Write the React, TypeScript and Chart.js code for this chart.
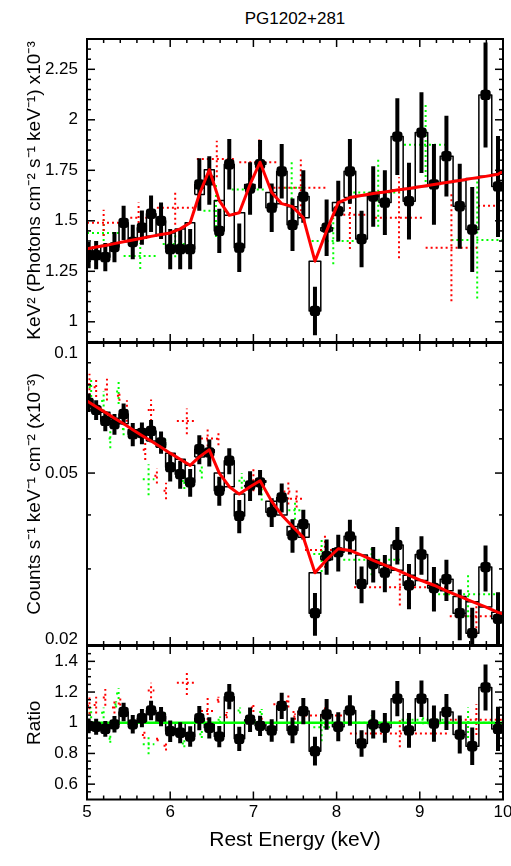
import React, { useEffect, useRef } from "react";
import { Chart, registerables } from "chart.js";

Chart.register(...registerables);

const FONT = "'Liberation Sans', Arial, Helvetica, sans-serif";

// ---------- axes ----------
const X_MIN = 5;
const X_MAX = 10;
const X_TICKS = [5, 6, 7, 8, 9, 10];
const X_MINOR_STEP = 0.2;

const TOP_MIN = 0.9;
const TOP_MAX = 2.4;
const TOP_TICKS = [1, 1.25, 1.5, 1.75, 2, 2.25];
const TOP_MINOR_STEP = 0.05;

const MID_MIN = 0.02;
const MID_MAX = 0.1;
const MID_TICKS = [0.02, 0.05, 0.1];
const MID_MINOR = [0.03, 0.04, 0.06, 0.07, 0.08, 0.09];

const BOT_MIN = 0.5;
const BOT_MAX = 1.5;
const BOT_TICKS = [0.6, 0.8, 1, 1.2, 1.4];
const BOT_MINOR_STEP = 0.05;
const UNITY = 1;

// ---------- black spectrum (bin centres, keV) ----------
const BIN_E = [5.02, 5.11, 5.22, 5.33, 5.44, 5.55, 5.66, 5.77, 5.89, 6.0, 6.12, 6.24, 6.35, 6.47, 6.59, 6.71, 6.83, 6.96, 7.08, 7.22, 7.34, 7.47, 7.6, 7.74, 7.88, 8.02, 8.16, 8.3, 8.44, 8.58, 8.73, 8.87, 9.02, 9.17, 9.32, 9.48, 9.63, 9.79, 9.94];

// top panel: unfolded spectrum (x10^-3)
const TOP_VAL = [1.33, 1.33, 1.32, 1.37, 1.49, 1.395, 1.466, 1.535, 1.5, 1.36, 1.36, 1.36, 1.68, 1.7, 1.45, 1.78, 1.367, 1.66, 1.78, 1.565, 1.745, 1.48, 1.62, 1.054, 1.466, 1.548, 1.745, 1.41, 1.62, 1.59, 1.917, 1.597, 1.937, 1.68, 1.82, 1.572, 1.457, 2.123, 1.67];
const TOP_ERR = [0.065, 0.07, 0.07, 0.075, 0.085, 0.085, 0.085, 0.09, 0.09, 0.1, 0.1, 0.1, 0.13, 0.12, 0.11, 0.125, 0.12, 0.13, 0.12, 0.12, 0.135, 0.13, 0.13, 0.12, 0.14, 0.15, 0.16, 0.14, 0.15, 0.16, 0.19, 0.19, 0.2, 0.2, 0.2, 0.21, 0.21, 0.26, 0.25];
const TOP_MODEL = [1.363, 1.37, 1.378, 1.387, 1.396, 1.405, 1.414, 1.423, 1.432, 1.44, 1.46, 1.49, 1.63, 1.753, 1.6, 1.527, 1.54, 1.68, 1.79, 1.64, 1.585, 1.57, 1.515, 1.3, 1.45, 1.59, 1.615, 1.625, 1.635, 1.643, 1.652, 1.66, 1.67, 1.68, 1.69, 1.7, 1.71, 1.72, 1.73];
const TOP_MODEL_ENDS = [1.36, 1.745];

// middle panel: counts
const MID_VAL = [0.0728, 0.07, 0.066, 0.0649, 0.0685, 0.0615, 0.0619, 0.0626, 0.0589, 0.0516, 0.0497, 0.0476, 0.0568, 0.0558, 0.0455, 0.0534, 0.0398, 0.0468, 0.0476, 0.0406, 0.0439, 0.0359, 0.0381, 0.0237, 0.0321, 0.0328, 0.0357, 0.0277, 0.0308, 0.0294, 0.0341, 0.0275, 0.0324, 0.0271, 0.0284, 0.0237, 0.0213, 0.0303, 0.023];
const MID_ERR = [0.0036, 0.0037, 0.0035, 0.0036, 0.0039, 0.0038, 0.0036, 0.0037, 0.0035, 0.0038, 0.0037, 0.0035, 0.0044, 0.004, 0.0035, 0.0037, 0.0035, 0.0037, 0.0032, 0.0031, 0.0034, 0.0032, 0.003, 0.0027, 0.003, 0.0032, 0.0033, 0.0027, 0.0029, 0.0029, 0.0034, 0.0033, 0.0033, 0.0032, 0.0031, 0.0032, 0.0031, 0.0037, 0.0035];
const MID_MODEL = [0.073, 0.0712, 0.0691, 0.067, 0.065, 0.063, 0.0611, 0.0593, 0.0574, 0.0556, 0.0538, 0.0521, 0.0545, 0.0566, 0.05, 0.0465, 0.0447, 0.0465, 0.048, 0.043, 0.04, 0.0376, 0.0355, 0.0294, 0.0315, 0.0334, 0.0331, 0.0323, 0.0314, 0.0306, 0.0298, 0.029, 0.0282, 0.0275, 0.0267, 0.0259, 0.0252, 0.0245, 0.0238];
const MID_MODEL_ENDS = [0.0734, 0.0236];

// bottom panel: ratio
const RATIO_VAL = [0.98, 0.974, 0.96, 0.99, 1.07, 0.99, 1.03, 1.08, 1.04, 0.945, 0.935, 0.91, 1.03, 0.967, 0.91, 1.17, 0.895, 1.02, 0.98, 0.95, 1.11, 0.95, 1.076, 0.815, 1.054, 0.974, 1.08, 0.865, 0.99, 0.967, 1.157, 0.95, 1.157, 0.995, 1.07, 0.923, 0.847, 1.23, 0.96];
const RATIO_ERR = [0.048, 0.052, 0.051, 0.054, 0.061, 0.06, 0.06, 0.064, 0.062, 0.07, 0.069, 0.067, 0.079, 0.069, 0.069, 0.082, 0.079, 0.08, 0.066, 0.073, 0.085, 0.084, 0.086, 0.093, 0.1, 0.094, 0.099, 0.086, 0.092, 0.097, 0.115, 0.113, 0.119, 0.118, 0.118, 0.124, 0.122, 0.15, 0.144];

// ---------- red / green spectra (dotted crosses) ----------
const TOP_RED_E = [5.2, 5.62, 6.06, 6.56, 7.07, 7.57, 8.16, 8.75, 9.38, 10.0];
const TOP_RED_Y = [1.49, 1.515, 1.565, 1.806, 1.79, 1.663, 1.53, 1.515, 1.367, 1.575];
const TOP_RED_DX = [0.2, 0.1, 0.22, 0.24, 0.24, 0.33, 0.2, 0.29, 0.31, 0.3];
const TOP_RED_ERR = [0.065, 0.075, 0.085, 0.09, 0.12, 0.14, 0.17, 0.2, 0.265, 0.3];

const TOP_GREEN_E = [5.2, 5.64, 6.06, 6.55, 6.95, 7.46, 7.96, 8.5, 9.07, 9.69];
const TOP_GREEN_Y = [1.44, 1.326, 1.385, 1.55, 1.655, 1.663, 1.4, 1.64, 1.877, 1.405];
const TOP_GREEN_DX = [0.2, 0.2, 0.15, 0.15, 0.21, 0.14, 0.26, 0.3, 0.26, 0.31];
const TOP_GREEN_ERR = [0.065, 0.065, 0.065, 0.13, 0.1, 0.13, 0.115, 0.17, 0.21, 0.29];

const MID_RED_E = [5.03, 5.11, 5.24, 5.39, 5.48, 5.7, 5.77, 5.84, 5.95, 6.2, 6.45, 6.58, 7.0, 7.42, 7.52, 7.86, 8.76, 9.68];
const MID_RED_Y = [0.0803, 0.079, 0.0781, 0.0755, 0.0697, 0.0566, 0.07, 0.0493, 0.0455, 0.066, 0.0601, 0.06, 0.0484, 0.0453, 0.0436, 0.0332, 0.0272, 0.0233];
const MID_RED_DX = [0.03, 0.03, 0.03, 0.03, 0.03, 0.03, 0.04, 0.03, 0.03, 0.12, 0.08, 0.03, 0.04, 0.06, 0.08, 0.24, 0.55, 0.32];
const MID_RED_ERR = [0.0046, 0.004, 0.0045, 0.002, 0.004, 0.003, 0.004, 0.002, 0.002, 0.0045, 0.004, 0.002, 0.003, 0.003, 0.002, 0.003, 0.0025, 0.002];

const MID_GREEN_E = [5.05, 5.2, 5.28, 5.38, 5.44, 5.74, 5.94, 6.17, 6.38, 6.6, 6.86, 7.1, 7.5, 7.82, 8.42, 9.58];
const MID_GREEN_Y = [0.079, 0.0734, 0.0601, 0.0772, 0.0632, 0.0484, 0.0583, 0.0479, 0.0506, 0.0476, 0.048, 0.0452, 0.041, 0.0325, 0.0315, 0.0262];
const MID_GREEN_DX = [0.03, 0.03, 0.02, 0.03, 0.02, 0.07, 0.02, 0.03, 0.03, 0.03, 0.04, 0.03, 0.08, 0.1, 0.34, 0.42];
const MID_GREEN_ERR = [0.004, 0.004, 0.003, 0.005, 0.002, 0.004, 0.002, 0.002, 0.002, 0.002, 0.002, 0.002, 0.002, 0.003, 0.0025, 0.003];

const BOT_RED_E = [5.03, 5.11, 5.22, 5.33, 5.4, 5.69, 5.77, 5.85, 5.95, 6.2, 6.45, 6.58, 6.68, 7.0, 7.1, 7.3, 7.42, 7.5, 7.55, 7.86, 8.76, 9.68];
const BOT_RED_Y = [1.11, 1.115, 1.165, 1.1, 1.125, 0.92, 1.21, 0.895, 0.85, 1.26, 1.076, 1.15, 1.05, 1.1, 1.035, 1.12, 1.14, 1.04, 1.07, 1.048, 0.93, 1.02];
const BOT_RED_DX = [0.03, 0.03, 0.03, 0.03, 0.03, 0.03, 0.04, 0.02, 0.03, 0.12, 0.08, 0.02, 0.02, 0.03, 0.02, 0.06, 0.03, 0.02, 0.08, 0.24, 0.6, 0.32];
const BOT_RED_ERR = [0.055, 0.055, 0.055, 0.04, 0.045, 0.025, 0.05, 0.015, 0.03, 0.08, 0.09, 0.02, 0.02, 0.03, 0.015, 0.02, 0.04, 0.02, 0.02, 0.06, 0.09, 0.1];

const BOT_GREEN_E = [5.05, 5.2, 5.28, 5.35, 5.38, 5.74, 5.93, 6.17, 6.38, 6.6, 6.84, 7.1, 7.82, 8.42, 9.04, 9.58];
const BOT_GREEN_Y = [1.065, 1.065, 0.895, 1.12, 1.19, 0.86, 1.05, 0.865, 0.925, 1.02, 1.08, 1.07, 0.97, 1.0, 1.02, 1.0];
const BOT_GREEN_DX = [0.03, 0.03, 0.02, 0.02, 0.03, 0.07, 0.03, 0.03, 0.03, 0.03, 0.03, 0.03, 0.1, 0.34, 0.26, 0.3];
const BOT_GREEN_ERR = [0.035, 0.035, 0.025, 0.02, 0.035, 0.065, 0.02, 0.025, 0.025, 0.02, 0.02, 0.02, 0.09, 0.05, 0.03, 0.1];

// ---------- text ----------
const TITLE = "PG1202+281";
const TOP_YTITLE = "KeV\u00B2 (Photons cm\u207B\u00B2 s\u207B\u00B9 keV\u207B\u00B9) x10\u207B\u00B3";
const MID_YTITLE = "Counts s\u207B\u00B9 keV\u207B\u00B9 cm\u207B\u00B2 (x10\u207B\u00B3)";
const BOT_YTITLE = "Ratio";
const X_TITLE = "Rest Energy (keV)";

// ---------- helpers ----------
type P = { x: number; y: number | null };

function crosses(E: number[], Y: number[], DX: number[], ERR: number[]): P[] {
  const pts: P[] = [];
  for (let i = 0; i < E.length; i++) {
    pts.push({ x: E[i] - DX[i], y: Y[i] }, { x: E[i] + DX[i], y: Y[i] }, { x: E[i], y: null });
    pts.push({ x: E[i], y: Y[i] - ERR[i] }, { x: E[i], y: Y[i] + ERR[i] }, { x: E[i], y: null });
  }
  return pts;
}

function errorBars(E: number[], V: number[], ERR: number[]): P[] {
  const pts: P[] = [];
  for (let i = 0; i < E.length; i++) {
    pts.push({ x: E[i], y: V[i] - ERR[i] }, { x: E[i], y: V[i] + ERR[i] }, { x: E[i], y: null });
  }
  return pts;
}

function boxes(E: number[], V: number[], M: number[]): P[] {
  const pts: P[] = [];
  const n = E.length;
  for (let i = 0; i < n; i++) {
    const l = i > 0 ? (E[i - 1] + E[i]) / 2 : E[i] - (E[i + 1] - E[i]) / 2;
    const r = i < n - 1 ? (E[i] + E[i + 1]) / 2 : E[i] + (E[i] - E[i - 1]) / 2;
    pts.push({ x: l, y: M[i] }, { x: l, y: V[i] }, { x: r, y: V[i] }, { x: r, y: M[i] }, { x: l, y: M[i] }, { x: l, y: null });
  }
  return pts;
}

function modelLine(E: number[], M: number[], ends: number[]): P[] {
  return [{ x: X_MIN, y: ends[0] }, ...E.map((e, i) => ({ x: e, y: M[i] })), { x: X_MAX, y: ends[1] }];
}

function steps(min: number, max: number, step: number): number[] {
  const out: number[] = [];
  const n = Math.round((max - min) / step);
  for (let k = 1; k < n; k++) out.push(+(min + k * step).toFixed(6));
  return out;
}

function minorOnly(all: number[], major: number[]) {
  return all.filter((v) => !major.some((m) => Math.abs(m - v) < 1e-6));
}

// frame + inward ticks on all four sides; optionally keeps end labels inside the panel
function framePlugin(yMajor: number[], yMinor: number[], insetLabels: boolean) {
  const xMinor = minorOnly(steps(X_MIN, X_MAX, X_MINOR_STEP), X_TICKS);
  return {
    id: "frameTicks",
    beforeDraw(chart: any) {
      if (!insetLabels) return;
      const a = chart.chartArea;
      const items = chart.scales.y.getLabelItems(a);
      for (const it of items) {
        const t = it.options.translation;
        t[1] = Math.min(Math.max(t[1], a.top + 10), a.bottom - 6);
      }
    },
    afterDraw(chart: any) {
      const { ctx, chartArea: a, scales } = chart;
      const xs = scales.x;
      const ys = scales.y;
      ctx.save();
      ctx.strokeStyle = "#000";
      ctx.lineWidth = 1.5;
      const seg = (x1: number, y1: number, x2: number, y2: number) => {
        ctx.beginPath();
        ctx.moveTo(x1, y1);
        ctx.lineTo(x2, y2);
        ctx.stroke();
      };
      const xt = (vals: number[], len: number) => {
        for (const v of vals) {
          const p = xs.getPixelForValue(v);
          seg(p, a.bottom, p, a.bottom - len);
          seg(p, a.top, p, a.top + len);
        }
      };
      const yt = (vals: number[], len: number) => {
        for (const v of vals) {
          const p = ys.getPixelForValue(v);
          seg(a.left, p, a.left + len, p);
          seg(a.right, p, a.right - len, p);
        }
      };
      xt(X_TICKS, 8);
      xt(xMinor, 4);
      yt(yMajor, 8);
      yt(yMinor, 4);
      ctx.lineWidth = 2;
      ctx.strokeRect(a.left, a.top, a.right - a.left, a.bottom - a.top);
      ctx.restore();
    },
  };
}

function lineDS(data: P[], extra: any) {
  return {
    type: "line",
    data,
    pointRadius: 0,
    pointHoverRadius: 0,
    pointHitRadius: 0,
    fill: false,
    tension: 0,
    spanGaps: false,
    borderCapStyle: "butt",
    ...extra,
  };
}

function blackSet(V: number[], ERR: number[], M: number[]) {
  return [
    {
      type: "line",
      data: BIN_E.map((e, i) => ({ x: e, y: V[i] })),
      showLine: false,
      pointRadius: 6,
      pointHoverRadius: 6,
      pointStyle: "rectRounded",
      pointBackgroundColor: "#000",
      pointBorderWidth: 0,
      order: 1,
    },
    lineDS(errorBars(BIN_E, V, ERR), { borderColor: "#000", borderWidth: 4, order: 2 }),
    lineDS(boxes(BIN_E, V, M), { borderColor: "#000", borderWidth: 1.5, order: 4, borderJoinStyle: "round" }),
  ];
}

function dotted(data: P[], color: string, order: number) {
  return lineDS(data, { borderColor: color, borderWidth: 2, borderDash: [2, 3], order });
}

function yScale(type: string, min: number, max: number, ticks: number[], title: string) {
  return {
    type,
    min,
    max,
    position: "left",
    grid: { display: false, drawTicks: false },
    border: { display: false },
    ticks: {
      color: "#000",
      font: { family: FONT, size: 17 },
      padding: 9,
      autoSkip: false,
      callback: (v: number) => String(v),
    },
    afterBuildTicks: (s: any) => {
      s.ticks = ticks.map((v) => ({ value: v }));
    },
    afterFit: (s: any) => {
      s.width = 87;
      s.paddingTop = 0;
      s.paddingBottom = 0;
    },
    title: {
      display: true,
      text: title,
      color: "#000",
      font: { family: FONT, size: 19 },
      padding: { top: 23.6, bottom: 0 },
    },
  };
}

const hiddenX = { type: "linear", min: X_MIN, max: X_MAX, display: false };

const shownX = {
  type: "linear",
  min: X_MIN,
  max: X_MAX,
  position: "bottom",
  grid: { display: false, drawTicks: false },
  border: { display: false },
  ticks: {
    color: "#000",
    font: { family: FONT, size: 17 },
    padding: 3,
    autoSkip: false,
    maxRotation: 0,
    callback: (v: number) => String(v),
  },
  afterBuildTicks: (s: any) => {
    s.ticks = X_TICKS.map((v) => ({ value: v }));
  },
  afterFit: (s: any) => {
    s.height = 60;
    s.paddingLeft = 0;
    s.paddingRight = 0;
  },
  title: {
    display: true,
    text: X_TITLE,
    color: "#000",
    font: { family: FONT, size: 21 },
    padding: { top: 0, bottom: 6.9 },
  },
};

function config(datasets: any[], x: any, y: any, padding: any, plugin: any) {
  return {
    type: "line",
    data: { datasets },
    options: {
      responsive: false,
      animation: false,
      devicePixelRatio: 1,
      events: [],
      layout: { padding },
      plugins: { legend: { display: false }, tooltip: { enabled: false }, title: { display: false } },
      scales: { x, y },
    },
    plugins: [plugin],
  } as any;
}

export default function App() {
  const r1 = useRef<HTMLCanvasElement>(null);
  const r2 = useRef<HTMLCanvasElement>(null);
  const r3 = useRef<HTMLCanvasElement>(null);

  useEffect(() => {
    const topDatasets = [
      lineDS(modelLine(BIN_E, TOP_MODEL, TOP_MODEL_ENDS), { borderColor: "#ff0000", borderWidth: 3, order: 0, borderJoinStyle: "round" }),
      ...blackSet(TOP_VAL, TOP_ERR, TOP_MODEL),
      dotted(crosses(TOP_RED_E, TOP_RED_Y, TOP_RED_DX, TOP_RED_ERR), "#ff0000", 5),
      dotted(crosses(TOP_GREEN_E, TOP_GREEN_Y, TOP_GREEN_DX, TOP_GREEN_ERR), "#00ff00", 6),
    ];
    const midDatasets = [
      lineDS(modelLine(BIN_E, MID_MODEL, MID_MODEL_ENDS), { borderColor: "#ff0000", borderWidth: 3, order: 0, borderJoinStyle: "round" }),
      ...blackSet(MID_VAL, MID_ERR, MID_MODEL),
      dotted(crosses(MID_RED_E, MID_RED_Y, MID_RED_DX, MID_RED_ERR), "#ff0000", 5),
      dotted(crosses(MID_GREEN_E, MID_GREEN_Y, MID_GREEN_DX, MID_GREEN_ERR), "#00ff00", 6),
    ];
    const botDatasets = [
      lineDS([{ x: X_MIN, y: UNITY }, { x: X_MAX, y: UNITY }], { borderColor: "#00ff00", borderWidth: 2.5, order: 3 }),
      ...blackSet(RATIO_VAL, RATIO_ERR, RATIO_VAL.map(() => UNITY)),
      dotted(crosses(BOT_RED_E, BOT_RED_Y, BOT_RED_DX, BOT_RED_ERR), "#ff0000", 5),
      dotted(crosses(BOT_GREEN_E, BOT_GREEN_Y, BOT_GREEN_DX, BOT_GREEN_ERR), "#00ff00", 6),
    ];

    const topYMinor = minorOnly(steps(TOP_MIN, TOP_MAX, TOP_MINOR_STEP), TOP_TICKS);
    const botYMinor = minorOnly(steps(BOT_MIN, BOT_MAX, BOT_MINOR_STEP), BOT_TICKS);

    const c1 = new Chart(
      r1.current as HTMLCanvasElement,
      config(topDatasets, hiddenX, yScale("linear", TOP_MIN, TOP_MAX, TOP_TICKS, TOP_YTITLE), { top: 39, bottom: 5, left: 0, right: 8 }, framePlugin(TOP_TICKS, topYMinor, false))
    );
    const c2 = new Chart(
      r2.current as HTMLCanvasElement,
      config(midDatasets, hiddenX, yScale("logarithmic", MID_MIN, MID_MAX, MID_TICKS, MID_YTITLE), { top: 13, bottom: 5, left: 0, right: 8 }, framePlugin(MID_TICKS, MID_MINOR, true))
    );
    const c3 = new Chart(
      r3.current as HTMLCanvasElement,
      config(botDatasets, shownX, yScale("linear", BOT_MIN, BOT_MAX, BOT_TICKS, BOT_YTITLE), { top: 12, bottom: 6.5, left: 0, right: 8 }, framePlugin(BOT_TICKS, botYMinor, false))
    );
    return () => {
      c1.destroy();
      c2.destroy();
      c3.destroy();
    };
  }, []);

  return (
    <div style={{ position: "absolute", left: 0, top: 0, width: 511, height: 866, background: "#fff", overflow: "hidden" }}>
      <div
        style={{
          position: "absolute",
          left: 195,
          width: 200,
          top: 8,
          textAlign: "center",
          fontFamily: FONT,
          fontSize: 17,
          lineHeight: "22px",
          color: "#000",
        }}
      >
        {TITLE}
      </div>
      <canvas ref={r1} width={511} height={348} style={{ position: "absolute", left: 0, top: 0 }} />
      <canvas ref={r2} width={511} height={321} style={{ position: "absolute", left: 0, top: 330 }} />
      <canvas ref={r3} width={511} height={232} style={{ position: "absolute", left: 0, top: 634 }} />
    </div>
  );
}
